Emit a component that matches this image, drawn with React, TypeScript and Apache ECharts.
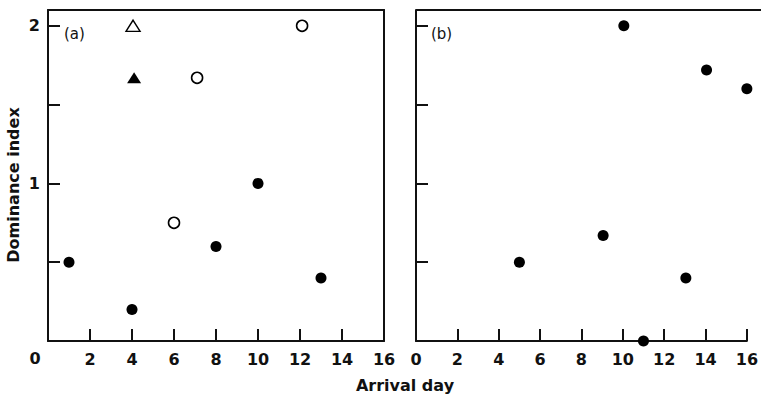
import React, { useEffect, useRef } from "react";
import * as echarts from "echarts";

// Panel (a)
const aFilledCircles: [number, number][] = [
  [1, 0.5],
  [4, 0.2],
  [8, 0.6],
  [10, 1.0],
  [13, 0.4],
];
const aOpenCircles: [number, number][] = [
  [6, 0.75],
  [7.1, 1.67],
  [12.1, 2.0],
];
const aOpenTriangles: [number, number][] = [[4.05, 2.0]];
const aFilledTriangles: [number, number][] = [[4.1, 1.67]];

// Panel (b)
const bFilledCircles: [number, number][] = [
  [5, 0.5],
  [9.05, 0.67],
  [10.05, 2.0],
  [11, 0],
  [13.05, 0.4],
  [14.05, 1.72],
  [16, 1.6],
];

const xTicks = [0, 2, 4, 6, 8, 10, 12, 14, 16];
const yLabelled = [1, 2];
const xTitle = "Arrival day";
const yTitle = "Dominance index";
const panelLabels = ["(a)", "(b)"];

const FONT = "DejaVu Sans";
const INK = "#111";

export default function App() {
  const ref = useRef<HTMLDivElement>(null);
  useEffect(() => {
    if (!ref.current) return;
    const chart = echarts.init(ref.current, undefined, { renderer: "svg" });

    const bottomX = (gridIndex: number, hideZero: boolean) => ({
      type: "value",
      gridIndex,
      position: "bottom",
      min: xTicks[0],
      max: xTicks[xTicks.length - 1],
      interval: 2,
      axisLine: { show: true, onZero: false, lineStyle: { color: INK, width: 2 } },
      axisTick: { show: true, inside: true, length: 12, lineStyle: { color: INK, width: 2 } },
      axisLabel: {
        show: true,
        margin: 10,
        color: INK,
        fontFamily: FONT,
        fontWeight: "bold",
        fontSize: 16,
        formatter: (v: number) => (hideZero && v === 0 ? "" : String(v)),
      },
      splitLine: { show: false },
    });
    const topX = (gridIndex: number) => ({
      type: "value",
      gridIndex,
      position: "top",
      min: 0,
      max: 16,
      interval: 2,
      axisLine: { show: true, onZero: false, lineStyle: { color: INK, width: 2 } },
      axisTick: { show: false },
      axisLabel: { show: false },
      splitLine: { show: false },
    });
    const leftY = (gridIndex: number, labels: boolean) => ({
      type: "value",
      gridIndex,
      position: "left",
      min: 0,
      max: 2.1,
      interval: 0.5,
      axisLine: { show: true, onZero: false, lineStyle: { color: INK, width: 2 } },
      axisTick: { show: true, inside: true, length: 12, lineStyle: { color: INK, width: 2 } },
      axisLabel: {
        show: labels,
        margin: 8,
        color: INK,
        fontFamily: FONT,
        fontWeight: "bold",
        fontSize: 16,
        formatter: (v: number) => (yLabelled.includes(v) ? String(v) : ""),
      },
      splitLine: { show: false },
    });
    const rightY = (gridIndex: number) => ({
      type: "value",
      gridIndex,
      position: "right",
      min: 0,
      max: 2.1,
      axisLine: { show: true, onZero: false, lineStyle: { color: INK, width: 2 } },
      axisTick: { show: false },
      axisLabel: { show: false },
      splitLine: { show: false },
    });

    const filled = (data: [number, number][], xi: number, yi: number) => ({
      type: "scatter",
      xAxisIndex: xi,
      yAxisIndex: yi,
      data,
      symbol: "circle",
      symbolSize: 11,
      clip: false,
      itemStyle: { color: "#000", opacity: 1 },
    });

    chart.setOption({
      animation: false,
      backgroundColor: "#fff",
      grid: [
        { left: 48, top: 10, width: 336, height: 331 },
        { left: 416, top: 10, width: 337, height: 331 },
      ],
      xAxis: [bottomX(0, true), topX(0), bottomX(1, false)],
      yAxis: [leftY(0, true), rightY(0), leftY(1, false)],
      series: [
        filled(aFilledCircles, 0, 0),
        {
          type: "scatter",
          xAxisIndex: 0,
          yAxisIndex: 0,
          data: aOpenCircles,
          symbol: "circle",
          symbolSize: 11,
          clip: false,
          itemStyle: { color: "#fff", borderColor: "#000", borderWidth: 1.6, opacity: 1 },
        },
        {
          type: "scatter",
          xAxisIndex: 0,
          yAxisIndex: 0,
          data: aOpenTriangles,
          symbol: "triangle",
          symbolSize: [14, 11],
          clip: false,
          itemStyle: { color: "#fff", borderColor: "#000", borderWidth: 1.4, opacity: 1 },
        },
        {
          type: "scatter",
          xAxisIndex: 0,
          yAxisIndex: 0,
          data: aFilledTriangles,
          symbol: "triangle",
          symbolSize: [14, 11],
          clip: false,
          itemStyle: { color: "#000", opacity: 1 },
        },
        filled(bFilledCircles, 2, 2),
      ],
      graphic: [
        {
          type: "line",
          shape: { x1: 416, y1: 10, x2: 761, y2: 10 },
          style: { stroke: INK, lineWidth: 2 },
        },
        {
          type: "text",
          x: 35,
          y: 358,
          style: {
            text: String(xTicks[0]),
            fill: INK,
            font: `bold 16px "${FONT}"`,
            align: "center",
            verticalAlign: "middle",
          },
        },
        {
          type: "text",
          x: 405,
          y: 385,
          style: {
            text: xTitle,
            fill: INK,
            font: `bold 16px "${FONT}"`,
            align: "center",
            verticalAlign: "middle",
          },
        },
        {
          type: "text",
          x: 13,
          y: 185,
          rotation: Math.PI / 2,
          style: {
            text: yTitle,
            fill: INK,
            font: `bold 16px "${FONT}"`,
            align: "center",
            verticalAlign: "middle",
          },
        },
        {
          type: "text",
          x: 64,
          y: 34,
          style: {
            text: panelLabels[0],
            fill: INK,
            font: `15px "${FONT}"`,
            align: "left",
            verticalAlign: "middle",
          },
        },
        {
          type: "text",
          x: 431,
          y: 34,
          style: {
            text: panelLabels[1],
            fill: INK,
            font: `15px "${FONT}"`,
            align: "left",
            verticalAlign: "middle",
          },
        },
      ],
    });
    return () => chart.dispose();
  }, []);
  return (
    <div
      ref={ref}
      style={{ position: "fixed", left: 0, top: 0, width: 761, height: 398, background: "#fff" }}
    />
  );
}
